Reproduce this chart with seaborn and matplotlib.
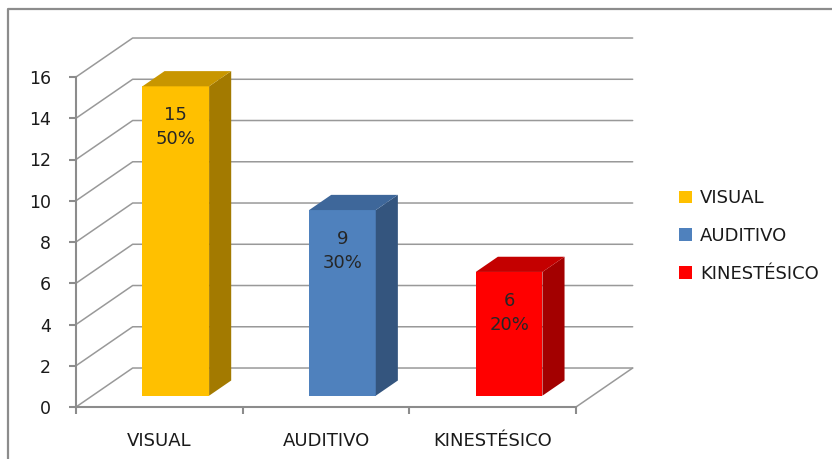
import numpy as np
import pandas as pd
import matplotlib
matplotlib.use("Agg")
import matplotlib.pyplot as plt
import matplotlib.transforms as mtransforms
from matplotlib.patches import Polygon, Patch
from matplotlib.lines import Line2D
import seaborn as sns

# data
categories = ["VISUAL", "AUDITIVO", "KINESTÉSICO"]
counts = [15, 9, 6]
percents = ["50%", "30%", "20%"]
y_ticks = [0, 2, 4, 6, 8, 10, 12, 14, 16]

front_colors = ["#FFC000", "#4F81BD", "#FF0000"]
side_colors = ["#A37A00", "#34557E", "#A30000"]
top_colors = ["#C89600", "#3E679A", "#C40000"]

sns.set_theme(style="white")
plt.rcParams['font.family'] = ['DejaVu Sans']

fig = plt.figure(figsize=(8.32, 4.59), dpi=100)
ax = fig.add_axes([76 / 832, 52 / 459, 500 / 832, 330 / 459])

df = pd.DataFrame({"cat": categories, "n": counts})
sns.barplot(data=df, x="cat", y="n", hue="cat", palette=front_colors,
            width=0.4, legend=False, ax=ax, saturation=1, linewidth=0)

ax.set_xlim(-0.5, 2.5)
ax.set_ylim(0, 16)

# depth of the fake 3D box in data units
DX, DY = 0.34, 1.89
f0, fd = 0.29, 0.39
grid_c = "#999999"

# back wall grid + left wall diagonals
for v in y_ticks:
    ax.plot([-0.5, -0.5 + DX, 2.5 + DX], [v, v + DY, v + DY],
            color=grid_c, lw=1.1, clip_on=False, zorder=0.5)
# floor right edge
ax.plot([2.5, 2.5 + DX], [0, DY], color=grid_c, lw=1.1, clip_on=False, zorder=0.5)

for i, p in enumerate(ax.patches):
    x, w, h = p.get_x(), p.get_width(), p.get_height()
    tr = mtransforms.Affine2D().translate(f0 * DX, f0 * DY) + ax.transData
    p.set_transform(tr)
    p.set_zorder(2)
    x1 = x + w
    side = Polygon([(x1, 0), (x1 + fd * DX, fd * DY), (x1 + fd * DX, h + fd * DY), (x1, h)],
                   closed=True, facecolor=side_colors[i], edgecolor="none",
                   transform=tr, zorder=2, clip_on=False)
    top = Polygon([(x, h), (x1, h), (x1 + fd * DX, h + fd * DY), (x + fd * DX, h + fd * DY)],
                  closed=True, facecolor=top_colors[i], edgecolor="none",
                  transform=tr, zorder=2, clip_on=False)
    ax.add_patch(side)
    ax.add_patch(top)
    ax.text(x + w / 2, h - 0.95, f"{counts[i]}\n{percents[i]}", transform=tr,
            ha="center", va="top", fontsize=13, color="#262626",
            linespacing=1.45, zorder=3)

# axes styling
for s in ["top", "right"]:
    ax.spines[s].set_visible(False)
for s in ["left", "bottom"]:
    ax.spines[s].set_color("#8c8c8c")
    ax.spines[s].set_linewidth(1.5)

ax.set_yticks(y_ticks)
ax.tick_params(axis="y", left=True, length=5, width=1.5, color="#8c8c8c",
               pad=13, labelsize=12.5, labelcolor="#1a1a1a")
ax.set_xticks([-0.5, 0.5, 1.5, 2.5])
ax.set_xticklabels([])
ax.set_xticks([0, 1, 2], minor=True)
ax.set_xticklabels(categories, minor=True)
ax.tick_params(axis="x", which="major", bottom=True, length=5, width=1.5, color="#8c8c8c")
ax.tick_params(axis="x", which="minor", bottom=False, length=0, pad=18,
               labelsize=13, labelcolor="#1a1a1a")
ax.set_xlabel("")
ax.set_ylabel("")
ax.grid(False)

handles = [Patch(facecolor=c, edgecolor="none") for c in front_colors]
fig.legend(handles, categories, loc="center left", bbox_to_anchor=(663 / 832, 1 - 236 / 459),
           frameon=False, fontsize=13, handlelength=0.7, handleheight=0.7,
           handletextpad=0.45, labelspacing=1.1, labelcolor="#1a1a1a")

# outer chart frame (only top and left edges visible)
fig.add_artist(Line2D([8 / 832, 8 / 832, 1], [0, 1 - 9 / 459, 1 - 9 / 459],
                      transform=fig.transFigure, color="#8c8c8c", lw=1.6))

fig.savefig("out.png", dpi=100)
